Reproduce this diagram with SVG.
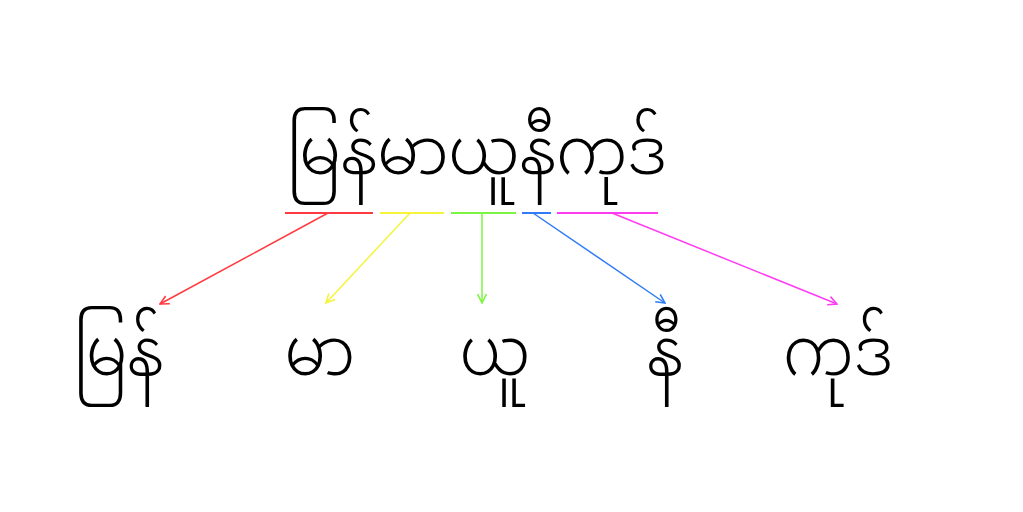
<svg xmlns="http://www.w3.org/2000/svg" width="1023" height="512" viewBox="0 0 1023 512">
<style>
text{font-family:"Noto Sans Myanmar","Padauk","Myanmar Text","Noto Sans",sans-serif;font-weight:300;fill:#000;font-size:67px;text-anchor:middle}
.b{font-size:68px}
.c{stroke-width:1.5;fill:none}
.u{stroke-width:2;fill:none}
</style>
<defs>
<marker id="mr" viewBox="0 0 10 10" refX="9" refY="5" markerWidth="11" markerHeight="11" markerUnits="userSpaceOnUse" orient="auto"><path d="M1,1 L9,5 L1,9" fill="none" stroke="#ff3a40" stroke-width="1.4"/></marker>
<marker id="my" viewBox="0 0 10 10" refX="9" refY="5" markerWidth="11" markerHeight="11" markerUnits="userSpaceOnUse" orient="auto"><path d="M1,1 L9,5 L1,9" fill="none" stroke="#f4f43c" stroke-width="1.4"/></marker>
<marker id="mg" viewBox="0 0 10 10" refX="9" refY="5" markerWidth="11" markerHeight="11" markerUnits="userSpaceOnUse" orient="auto"><path d="M1,1 L9,5 L1,9" fill="none" stroke="#7cf442" stroke-width="1.4"/></marker>
<marker id="mb" viewBox="0 0 10 10" refX="9" refY="5" markerWidth="11" markerHeight="11" markerUnits="userSpaceOnUse" orient="auto"><path d="M1,1 L9,5 L1,9" fill="none" stroke="#2f7cf6" stroke-width="1.4"/></marker>
<marker id="mm" viewBox="0 0 10 10" refX="9" refY="5" markerWidth="11" markerHeight="11" markerUnits="userSpaceOnUse" orient="auto"><path d="M1,1 L9,5 L1,9" fill="none" stroke="#ff3cf2" stroke-width="1.4"/></marker>
</defs>
<g id="word"><text transform="translate(477,174) scale(0.94,1)">မြန်မာယူနီကုဒ်</text></g>
<g id="underlines" class="u">
<line x1="285" y1="213" x2="373" y2="213" stroke="#ff3a40"/>
<line x1="380" y1="213" x2="444" y2="213" stroke="#f4f43c"/>
<line x1="451" y1="213" x2="516" y2="213" stroke="#7cf442"/>
<line x1="522" y1="213" x2="551" y2="213" stroke="#2f7cf6"/>
<line x1="557" y1="213" x2="658" y2="213" stroke="#ff3cf2"/>
</g>
<g id="connectors" class="c">
<line x1="328" y1="213" x2="160" y2="304" stroke="#ff3a40" marker-end="url(#mr)"/>
<line x1="410" y1="213" x2="326" y2="303" stroke="#f4f43c" marker-end="url(#my)"/>
<line x1="482" y1="213" x2="482" y2="303" stroke="#7cf442" marker-end="url(#mg)"/>
<line x1="533" y1="213" x2="665" y2="303" stroke="#2f7cf6" marker-end="url(#mb)"/>
<line x1="612" y1="213" x2="837" y2="304" stroke="#ff3cf2" marker-end="url(#mm)"/>
</g>
<g id="n1"><text class="b" transform="translate(119,375) scale(0.92,1)">မြန်</text></g>
<g id="n2"><text class="b" transform="translate(320,375) scale(0.92,1)">မာ</text></g>
<g id="n3"><text class="b" transform="translate(495,375) scale(0.92,1)">ယူ</text></g>
<g id="n4"><text class="b" transform="translate(665,375) scale(0.92,1)">နီ</text></g>
<g id="n5"><text class="b" transform="translate(838,375) scale(0.92,1)">ကုဒ်</text></g>
</svg>
